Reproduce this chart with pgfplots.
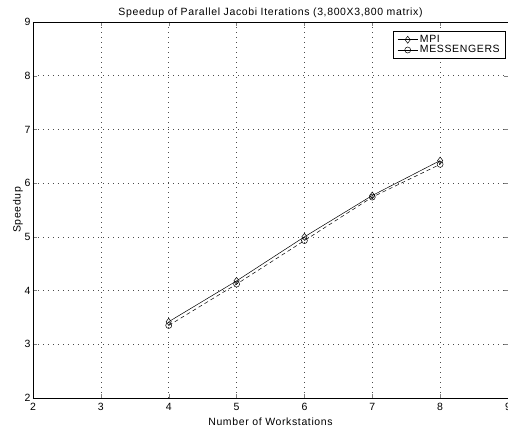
\documentclass[border=0pt]{standalone}
\usepackage{pgfplots}
\pgfplotsset{compat=1.18}
\usepackage{fontspec}
\setmainfont[LetterSpace=6]{Liberation Sans}
\begin{document}
\begin{tikzpicture}
\begin{axis}[
  name=ax,
  at={(0,0)}, anchor=south west,
  scale only axis,
  width=475pt, height=376pt,
  xmin=2, xmax=9, ymin=2, ymax=9,
  xtick={2,...,9}, ytick={2,...,9},
  tick align=inside,
  xtick pos=both, ytick pos=both,
  major tick length=4pt,
  grid=major,
  grid style={black!70, line width=0.5pt, dash pattern=on 0.6pt off 4.4pt},
  axis line style={black, line width=0.7pt},
  /pgf/number format/assume math mode=true,
  tick label style={font=\fontsize{10.5}{11}\selectfont},
  xticklabel style={yshift=-2pt},
  yticklabel style={xshift=1pt},
  title={Speedup of Parallel Jacobi Iterations (3,800X3,800 matrix)},
  title style={font=\fontsize{10.5}{11}\selectfont, yshift=-5pt},
  xlabel={Number of Workstations},
  ylabel={Speedup},
  label style={font=\fontsize{10.5}{11}\selectfont},
  xlabel style={yshift=0pt},
  ylabel style={yshift=-5pt},
  legend style={at={(0.996,0.976)}, anchor=north east, font=\fontsize{10.5}{11}\selectfont, draw=black, line width=0.7pt, inner xsep=4pt, inner ysep=2pt, row sep=-2.5pt},
  legend image code/.code={\draw[#1, solid] (0pt,0pt) -- (20pt,0pt); \draw[#1, solid, only marks] plot coordinates {(10pt,0pt)};},
  legend cell align=left,
]
\addplot[black, line width=0.5pt, mark=diamond, mark size=3.5pt, mark options={solid, line width=0.5pt}] coordinates {
(4,3.42) (5,4.18) (6,5.00) (7,5.77) (8,6.42)
};
\addlegendentry{MPI}
\addplot[black, line width=0.5pt, dash pattern=on 4pt off 3pt, mark=o, mark size=3pt, mark options={solid, line width=0.5pt}] coordinates {
(4,3.35) (5,4.12) (6,4.93) (7,5.74) (8,6.35)
};
\addlegendentry{MESSENGERS}
\end{axis}
\pgfresetboundingbox
\path (-33pt,-29pt) rectangle (475pt,398pt);
\end{tikzpicture}
\end{document}
